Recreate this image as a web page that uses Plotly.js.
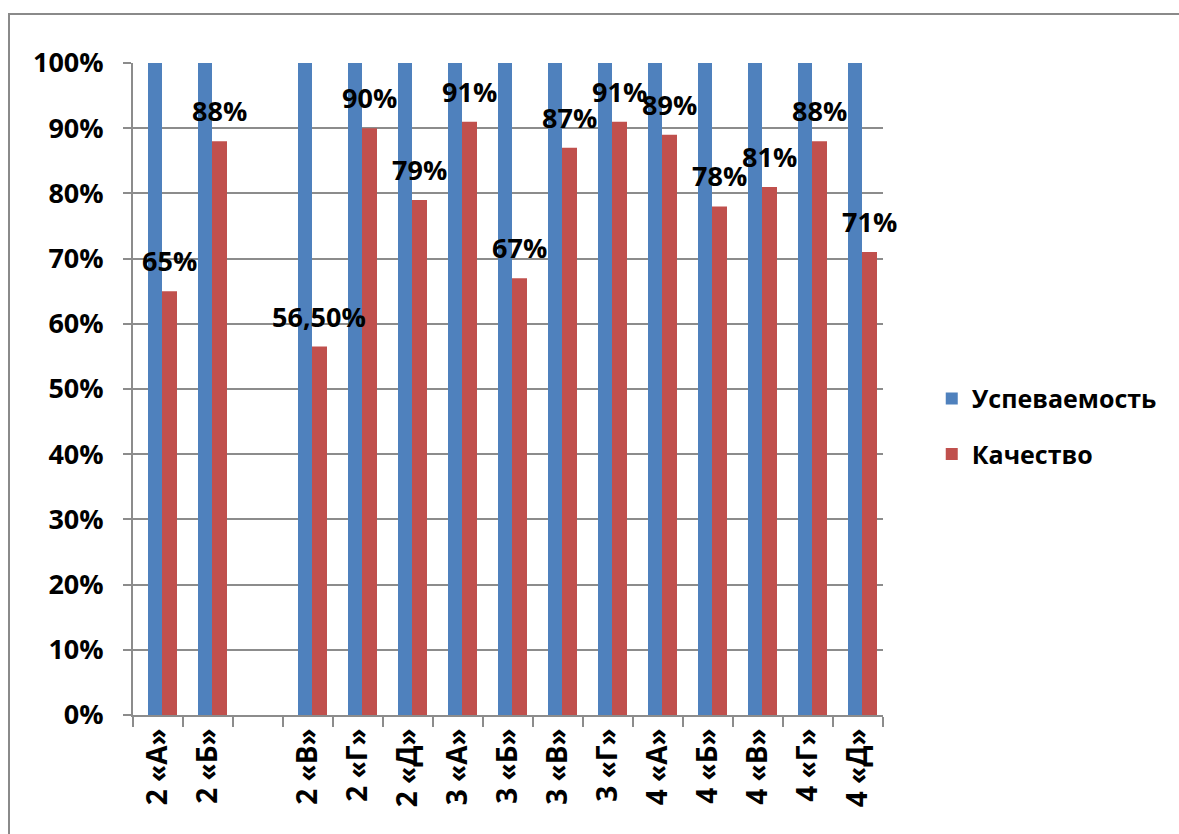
<!DOCTYPE html>
<html>
<head>
<meta charset="utf-8">
<script src="https://cdn.plot.ly/plotly-3.0.1.min.js"></script>
<style>
  html, body { margin: 0; padding: 0; background: #ffffff; }
  #frame { position: absolute; left: 8px; top: 13px; width: 1300px; height: 1000px;
           border-left: 2px solid #8a8a8a; border-top: 2px solid #8a8a8a; }
  #chart { position: absolute; left: 0; top: 0; width: 1179px; height: 834px; }
</style>
</head>
<body>
<div id="frame"></div>
<div id="chart"></div>
<script>
// Categories (a blank slot sits between 2 «Б» and 2 «В»)
const categories = ['2 «А»', '2 «Б»', ' ', '2 «В»', '2 «Г»', '2 «Д»', '3 «А»', '3 «Б»', '3 «В»', '3 «Г»', '4 «А»', '4 «Б»', '4 «В»', '4 «Г»', '4 «Д»'];
// Успеваемость
const uspevaemost = [1.00, 1.00, null, 1.00, 1.00, 1.00, 1.00, 1.00, 1.00, 1.00, 1.00, 1.00, 1.00, 1.00, 1.00];
// Качество
const kachestvo = [0.65, 0.88, null, 0.565, 0.90, 0.79, 0.91, 0.67, 0.87, 0.91, 0.89, 0.78, 0.81, 0.88, 0.71];
const kachestvoLabels = ['65%', '88%', '', '56,50%', '90%', '79%', '91%', '67%', '87%', '91%', '89%', '78%', '81%', '88%', '71%'];
const yTickVals = [0, 0.1, 0.2, 0.3, 0.4, 0.5, 0.6, 0.7, 0.8, 0.9, 1.0];
const yTickText = ['0%', '10%', '20%', '30%', '40%', '50%', '60%', '70%', '80%', '90%', '100%'];

const FONT = 'Open Sans, Liberation Sans, sans-serif';
const GRID = '#8c8c8c';

const traces = [
  {
    type: 'bar', name: 'Успеваемость', x: categories, y: uspevaemost,
    marker: { color: '#4F81BD' }, offset: -0.2, width: 0.28,
    legendgroup: 'a', hoverinfo: 'x+y'
  },
  {
    type: 'bar', name: 'Качество', x: categories, y: kachestvo,
    marker: { color: '#C0504D' }, offset: 0.08, width: 0.30,
    legendgroup: 'b', hoverinfo: 'x+y'
  }
];

const annotations = [];
categories.forEach((c, i) => {
  if (kachestvo[i] !== null && kachestvoLabels[i] !== '') {
    annotations.push({
      x: c, y: kachestvo[i], xref: 'x', yref: 'y',
      text: kachestvoLabels[i], showarrow: false,
      xanchor: 'center', yanchor: 'bottom', xshift: 11, yshift: 10,
      font: { family: FONT, size: 27, color: '#000000', weight: 700 }
    });
  }
});

const layout = {
  width: 1179, height: 834,
  margin: { l: 133, r: 296, t: 63, b: 119 },
  paper_bgcolor: 'rgba(0,0,0,0)',
  plot_bgcolor: 'rgba(0,0,0,0)',
  barmode: 'overlay',
  showlegend: true,
  legend: {
    x: 1.065, y: 0.443, xanchor: 'left', yanchor: 'middle',
    traceorder: 'grouped', tracegroupgap: 20,
    font: { family: FONT, size: 25, color: '#000000', weight: 700 },
    bgcolor: 'rgba(0,0,0,0)'
  },
  xaxis: {
    type: 'category', categoryorder: 'array', categoryarray: categories,
    range: [-0.5, categories.length - 0.5],
    showline: true, linecolor: GRID, linewidth: 2,
    ticks: 'outside', tickson: 'boundaries', ticklen: 10, tickcolor: GRID, tickwidth: 2,
    tickangle: -90, showgrid: false,
    tickfont: { family: FONT, size: 28, color: '#000000', weight: 700 }
  },
  yaxis: {
    range: [0, 1], tickvals: yTickVals, ticktext: yTickText,
    showline: true, linecolor: GRID, linewidth: 2,
    ticks: 'outside', ticklen: 8, tickcolor: GRID, tickwidth: 2,
    ticklabelstandoff: 14,
    showgrid: true, gridcolor: GRID, gridwidth: 2, zeroline: false,
    tickfont: { family: FONT, size: 27, color: '#000000', weight: 700 }
  },
  annotations: annotations
};

Plotly.newPlot('chart', traces, layout, { displayModeBar: false, staticPlot: true });
</script>
</body>
</html>
